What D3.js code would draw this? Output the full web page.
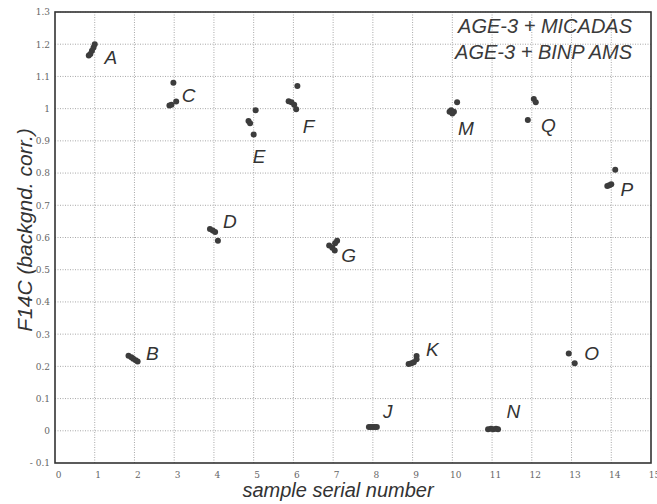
<!DOCTYPE html>
<html>
<head>
<meta charset="utf-8">
<script src="https://cdn.jsdelivr.net/npm/d3@7"></script>
<style>
  body { margin: 0; background: #fff; }
  svg { display: block; }
</style>
</head>
<body>
<svg width="657" height="504"></svg>
<script>
// sample clusters (x = serial number, y = F14C)
var samples = ["A", "B", "C", "D", "E", "F", "G", "J", "K", "M", "N", "O", "P", "Q"];
var pointSample = [
  "A","A","A","A","A",
  "B","B","B","B","B",
  "C","C","C","C",
  "D","D","D","D",
  "E","E","E","E",
  "F","F","F","F","F",
  "G","G","G","G","G",
  "J","J","J","J","J",
  "K","K","K","K","K",
  "M","M","M","M","M",
  "N","N","N","N","N",
  "O","O",
  "P","P","P","P",
  "Q","Q","Q"
];
var pointX = [
  0.85, 0.89, 0.93, 0.97, 1.0,
  1.85, 1.92, 1.97, 2.03, 2.08,
  2.98, 2.88, 2.93, 3.05,
  3.9, 3.97, 4.03, 4.1,
  5.05, 4.87, 4.91, 5.0,
  6.1, 5.88, 5.95, 6.02, 6.07,
  7.1, 7.05, 6.9, 6.98, 7.04,
  7.9, 7.95, 8.0, 8.05, 8.1,
  8.9, 8.97, 9.03, 9.1, 9.1,
  10.12, 9.93, 9.97, 10.04, 10.0,
  10.9, 10.97, 11.03, 11.1, 11.15,
  12.93, 13.08,
  14.1, 13.9, 13.95, 14.0,
  12.05, 12.1, 11.9
];
var pointY = [
  1.165, 1.17, 1.18, 1.19, 1.2,
  0.233, 0.228, 0.224, 0.219, 0.215,
  1.08, 1.01, 1.012, 1.022,
  0.626, 0.622, 0.617, 0.59,
  0.995, 0.962, 0.955, 0.92,
  1.07, 1.023, 1.02, 1.012, 0.998,
  0.59, 0.582, 0.575, 0.568, 0.56,
  0.012, 0.012, 0.012, 0.012, 0.012,
  0.207, 0.21, 0.213, 0.222, 0.232,
  1.02, 0.99, 0.995, 0.99, 0.985,
  0.005, 0.006, 0.005, 0.006, 0.005,
  0.24, 0.21,
  0.81, 0.76, 0.762, 0.765,
  1.03, 1.02, 0.965
];
var xTicks = d3.range(0, 16);
var yTicks = d3.range(-1, 14).map(function (d) { return d / 10; });
var legendLines = ["AGE-3 + MICADAS", "AGE-3 + BINP AMS"];

// label offsets from cluster centre, px
var labelOffset = {
  A: [19, 7], B: [19, -6], C: [16, -3], D: [16, -12], E: [7, 34],
  F: [15, 25], G: [15, 10], J: [15, -16], K: [19, -12], M: [13, 18],
  N: [20, -18], O: [20, -5], P: [16, 8], Q: [16, 18]
};

var plotLeft = 55, plotRight = 651, plotTop = 12, plotBottom = 463;
var svg = d3.select("svg");

var x = d3.scaleLinear().domain([0, 15]).range([plotLeft, plotRight]);
var y = d3.scaleLinear().domain([-0.1, 1.3]).range([plotBottom, plotTop]);

// grid
svg.append("g").selectAll("line")
  .data(xTicks.slice(1, -1))
  .enter().append("line")
  .attr("x1", function (d) { return x(d); })
  .attr("x2", function (d) { return x(d); })
  .attr("y1", plotTop).attr("y2", plotBottom)
  .attr("stroke", "#a8a8a8")
  .attr("stroke-width", 1)
  .attr("stroke-dasharray", "1,1.5");

svg.append("g").selectAll("line")
  .data(yTicks.slice(1))
  .enter().append("line")
  .attr("x1", plotLeft).attr("x2", plotRight)
  .attr("y1", function (d) { return y(d); })
  .attr("y2", function (d) { return y(d); })
  .attr("stroke", "#a8a8a8")
  .attr("stroke-width", 1)
  .attr("stroke-dasharray", "1,1.5");

// axes (labels only, frame drawn separately)
var yAxis = d3.axisLeft(y).tickValues(yTicks).tickSize(0).tickPadding(5)
  .tickFormat(function (d) {
    var v = Math.round(d * 10) / 10;
    return v < 0 ? "- " + Math.abs(v) : String(v);
  });
var gy = svg.append("g").attr("transform", "translate(" + plotLeft + ",0)").call(yAxis);
gy.select(".domain").remove();
gy.selectAll("text")
  .attr("font-family", "'DejaVu Serif', serif")
  .attr("font-size", 9)
  .attr("fill", "#666");

var xAxis = d3.axisBottom(x).tickValues(xTicks).tickSize(0).tickPadding(9);
var gx = svg.append("g").attr("transform", "translate(0," + plotBottom + ")").call(xAxis);
gx.select(".domain").remove();
gx.selectAll("text")
  .attr("dx", 3)
  .attr("font-family", "'DejaVu Serif', serif")
  .attr("font-size", 9)
  .attr("fill", "#666");

// frame
svg.append("rect")
  .attr("x", plotLeft).attr("y", plotTop)
  .attr("width", plotRight - plotLeft).attr("height", plotBottom - plotTop)
  .attr("fill", "none")
  .attr("stroke", "#333")
  .attr("stroke-width", 1.6);

// points
var pts = pointX.map(function (d, i) {
  return { s: pointSample[i], x: pointX[i], y: pointY[i] };
});
svg.append("g").selectAll("circle")
  .data(pts)
  .enter().append("circle")
  .attr("cx", function (d) { return x(d.x); })
  .attr("cy", function (d) { return y(d.y); })
  .attr("r", 3)
  .attr("fill", "#3c3c3c");

// cluster labels
svg.append("g").selectAll("text")
  .data(samples)
  .enter().append("text")
  .attr("x", function (s) {
    var c = pts.filter(function (p) { return p.s === s; });
    return d3.mean(c, function (p) { return x(p.x); }) + labelOffset[s][0];
  })
  .attr("y", function (s) {
    var c = pts.filter(function (p) { return p.s === s; });
    return d3.mean(c, function (p) { return y(p.y); }) + labelOffset[s][1];
  })
  .attr("text-anchor", "middle")
  .attr("dy", "0.36em")
  .attr("font-family", "'Liberation Sans', Arial, sans-serif")
  .attr("font-style", "italic")
  .attr("font-size", 19)
  .attr("fill", "#333")
  .text(function (s) { return s; });

// legend text
svg.append("g").selectAll("text")
  .data(legendLines)
  .enter().append("text")
  .attr("x", 632)
  .attr("y", function (d, i) { return 33 + i * 26; })
  .attr("text-anchor", "end")
  .attr("font-family", "'Liberation Sans', Arial, sans-serif")
  .attr("font-style", "italic")
  .attr("font-size", 20)
  .attr("fill", "#3a3a3a")
  .text(function (d) { return d; });

// axis titles
svg.append("text")
  .attr("x", 338).attr("y", 497)
  .attr("text-anchor", "middle")
  .attr("font-family", "'Liberation Sans', Arial, sans-serif")
  .attr("font-style", "italic")
  .attr("font-size", 20)
  .attr("fill", "#333")
  .text("sample serial number");

svg.append("text")
  .attr("transform", "translate(32,230) rotate(-90)")
  .attr("text-anchor", "middle")
  .attr("font-family", "'Liberation Sans', Arial, sans-serif")
  .attr("font-style", "italic")
  .attr("font-size", 21)
  .attr("fill", "#333")
  .text("F14C (backgnd. corr.)");
</script>
</body>
</html>
